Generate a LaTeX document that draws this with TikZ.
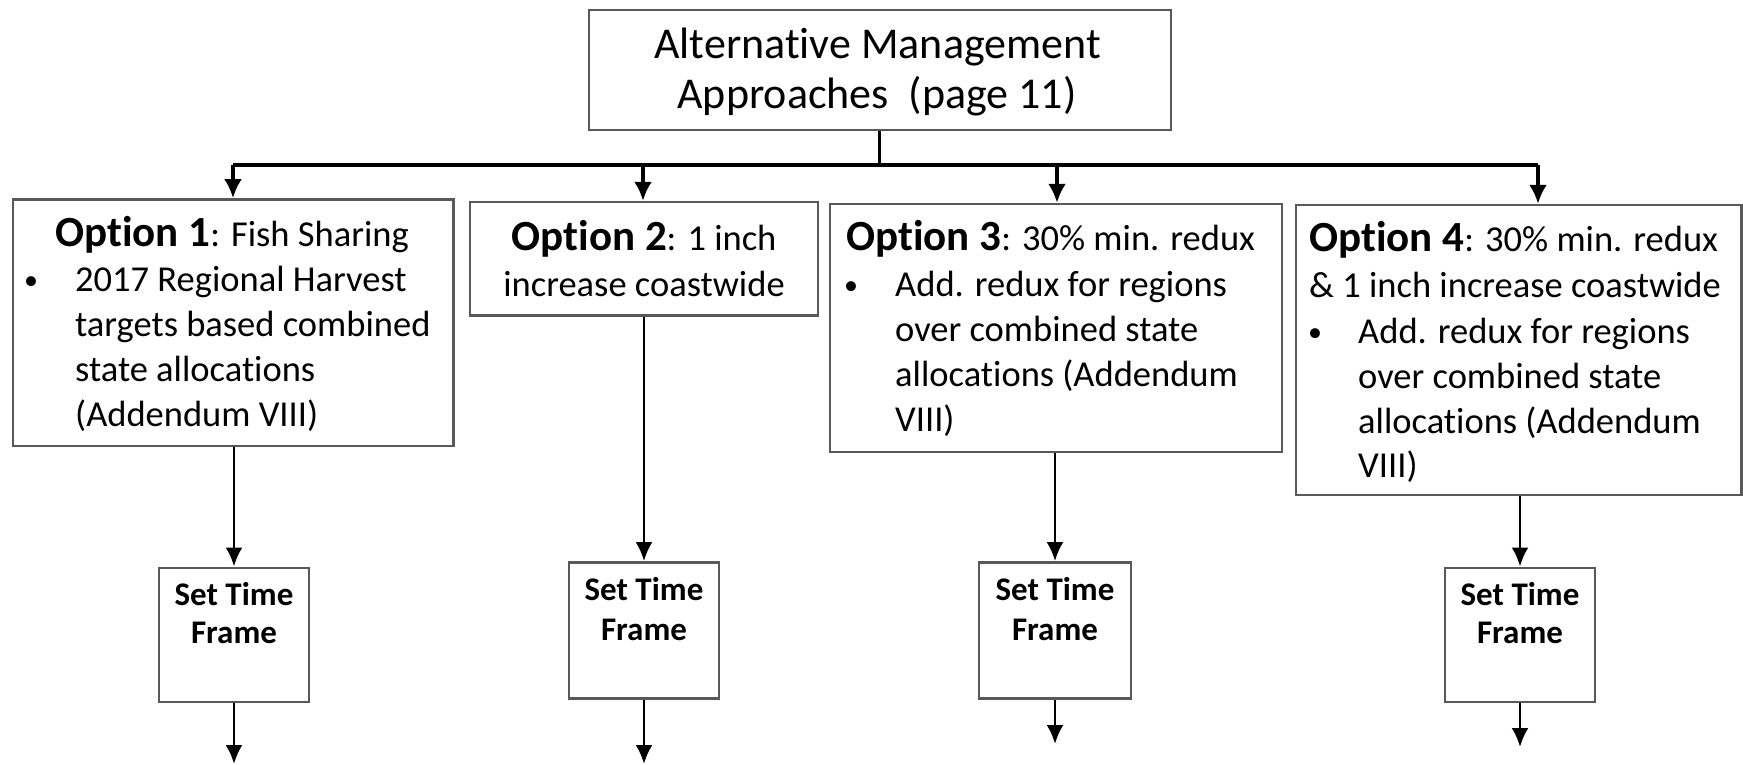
\documentclass[tikz,border=0pt]{standalone}
\usepackage{fontspec}
\setmainfont[Ligatures=NoCommon]{Carlito}
\usetikzlibrary{arrows.meta}
\newcommand\optlabel[1]{{\bfseries\fontsize{43}{50}\selectfont Option #1}}
\newcommand\blt{{\fontsize{28}{30}\selectfont\raisebox{2pt}{•}}}
\begin{document}
\begin{tikzpicture}[x=1pt,y=-1pt,
  box/.style={draw=black!65,line width=2.4pt,inner sep=0pt},
  big/.style={inner sep=0pt,font=\fontsize{44}{50}\selectfont},
  txt/.style={inner sep=0pt,font=\fontsize{36.5}{45}\selectfont},
  stf/.style={inner sep=0pt,font=\bfseries\fontsize{33}{38}\selectfont},
  arr/.style={line width=2.8pt,-{Latex[length=19pt,width=17pt]}},
  tarr/.style={line width=3.5pt,-{Latex[length=19pt,width=18pt]}},
  bus/.style={line width=4.2pt}]
\useasboundingbox (0,0) rectangle (1743,765);

% boxes
\node[box,minimum width=582pt,minimum height=120pt] (top) at (880,70) {};
\node[box,minimum width=440.5pt,minimum height=246.7pt] (opt1) at (233.25,322.65) {};
\node[box,minimum width=348pt,minimum height=113.5pt] (opt2) at (644,258.75) {};
\node[box,minimum width=452pt,minimum height=247.7pt] (opt3) at (1056,327.85) {};
\node[box,minimum width=445.5pt,minimum height=290pt] (opt4) at (1518.75,350) {};
\node[box,minimum width=150pt,minimum height=134pt] (t1) at (234,634.7) {};
\node[box,minimum width=150pt,minimum height=136pt] (t2) at (644,630.3) {};
\node[box,minimum width=152pt,minimum height=136pt] (t3) at (1055,630.3) {};
\node[box,minimum width=150pt,minimum height=134pt] (t4) at (1520,634.7) {};

% top text
\node[big,anchor=base] (topa) at (877.6,58.3) {Alternative Management};
\node[big,anchor=base] (topb) at (877,108.3) {Approaches~~(page 11)};

% option 1
\node[txt,anchor=base] (o1t) at (232,246) {\optlabel{1}: Fish Sharing};
\node[txt,anchor=base] (o1b) at (31,291) {\blt};
\node[txt,anchor=base west] (o1a) at (75,291) {2017 Regional Harvest};
\node[txt,anchor=base west] (o1c) at (75,336) {targets based combined};
\node[txt,anchor=base west] (o1d) at (75,381) {state allocations};
\node[txt,anchor=base west] (o1e) at (75,426) {(Addendum VIII)};

% option 2
\node[txt,anchor=base] (o2t) at (644,250) {\optlabel{2}: 1 inch};
\node[txt,anchor=base] (o2a) at (644,296) {increase coastwide};

% option 3
\node[txt,anchor=base west] (o3t) at (846,250) {\optlabel{3}: 30\% min. redux};
\node[txt,anchor=base] (o3b) at (851,296) {\blt};
\node[txt,anchor=base west] (o3a) at (895,296) {Add. redux for regions};
\node[txt,anchor=base west] (o3c) at (895,341) {over combined state};
\node[txt,anchor=base west] (o3d) at (895,386) {allocations (Addendum};
\node[txt,anchor=base west] (o3e) at (895,431) {VIII)};

% option 4
\node[txt,anchor=base west] (o4t) at (1309,251.7) {\optlabel{4}: 30\% min. redux};
\node[txt,anchor=base west] (o4u) at (1309,297.7) {\& 1 inch increase coastwide};
\node[txt,anchor=base] (o4b) at (1315,343) {\blt};
\node[txt,anchor=base west] (o4a) at (1358,343) {Add. redux for regions};
\node[txt,anchor=base west] (o4c) at (1358,388) {over combined state};
\node[txt,anchor=base west] (o4d) at (1358,433) {allocations (Addendum};
\node[txt,anchor=base west] (o4e) at (1358,477) {VIII)};

% set time frame texts
\node[stf,anchor=base] (t1a) at (234,605) {Set Time};
\node[stf,anchor=base] (t1b) at (234,643) {Frame};
\node[stf,anchor=base] (t2a) at (644,600) {Set Time};
\node[stf,anchor=base] (t2b) at (644,640) {Frame};
\node[stf,anchor=base] (t3a) at (1055,600) {Set Time};
\node[stf,anchor=base] (t3b) at (1055,640) {Frame};
\node[stf,anchor=base] (t4a) at (1520,605) {Set Time};
\node[stf,anchor=base] (t4b) at (1520,643) {Frame};

% bus
\coordinate (bj) at (879,165);
\coordinate (b1) at (233,165);
\coordinate (b2) at (643,165);
\coordinate (b3) at (1057,165);
\coordinate (b4) at (1538,165);
\draw[line width=3pt] (top.south -| bj) -- (bj);
\draw[bus] (b1) -- (b4);
\draw[tarr] (b1) -- (b1 |- opt1.north);
\draw[tarr] (b2) -- (b2 |- opt2.north);
\draw[tarr] (b3) -- (b3 |- opt3.north);
\draw[tarr] (b4) -- (b4 |- opt4.north);

% option to time frame
\draw[arr] (opt1.south -| t1) -- (t1.north);
\draw[arr] (opt2.south -| t2) -- (t2.north);
\draw[arr] (opt3.south -| t3) -- (t3.north);
\draw[arr] (opt4.south -| t4) -- (t4.north);

% outgoing arrows
\coordinate (e1) at (234,764);
\coordinate (e2) at (644,764);
\coordinate (e3) at (1055,744);
\coordinate (e4) at (1520,747);
\draw[arr] (t1.south) -- (e1);
\draw[arr] (t2.south) -- (e2);
\draw[arr] (t3.south) -- (e3);
\draw[arr] (t4.south) -- (e4);
\end{tikzpicture}
\end{document}
